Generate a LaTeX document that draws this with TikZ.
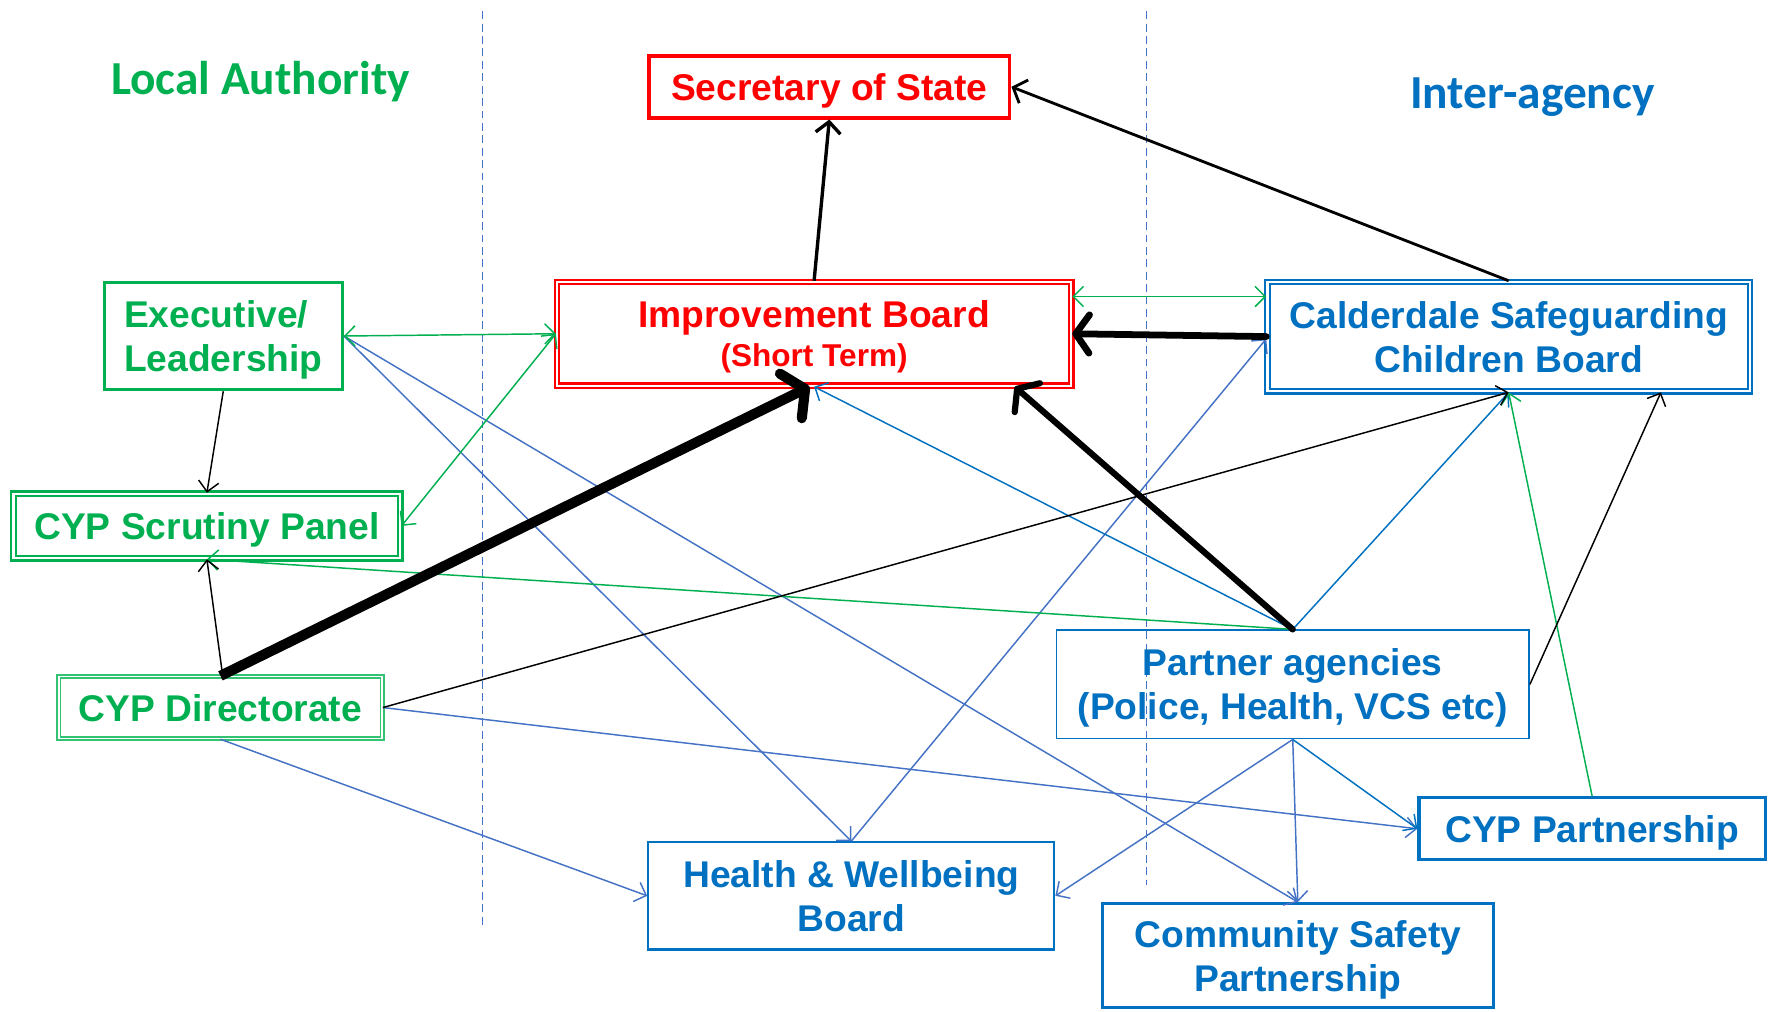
\documentclass[tikz,border=0pt]{standalone}
\usepackage{fontspec}
\setmainfont{Liberation Sans}
\newfontfamily\hdrfont{Carlito}
\usetikzlibrary{arrows.meta}
\definecolor{lagreen}{HTML}{00B050}
\definecolor{dirgreen}{HTML}{33C173}
\definecolor{iblue}{HTML}{0070C0}
\definecolor{lblue}{HTML}{4472C4}
\definecolor{ired}{HTML}{FF0000}
\begin{document}
\begin{tikzpicture}[x=1pt,y=-1pt,
  box/.style={draw, rectangle, inner sep=0pt, align=center, text depth=0pt,
    font=\fontsize{33}{39}\selectfont\bfseries},
  hdr/.style={font=\hdrfont\fontsize{42}{48}\selectfont\bfseries},
  thin/.style={line width=1.3pt, -{Straight Barb[length=9pt,width=18pt]}},
  thinboth/.style={line width=1.3pt, {Straight Barb[length=9pt,width=18pt]}-{Straight Barb[length=9pt,width=18pt]}},
  divider/.style={lblue, line width=1.3pt, dash pattern=on 7pt off 4pt}
]
\useasboundingbox (0,0) rectangle (1568,897);

% headers
\node[hdr, text=lagreen] (la) at (231,72) {Local Authority};
\node[hdr, text=iblue] (ia) at (1359,86) {Inter-agency};

% dividers
\draw[divider] (428,10) -- (428,823);
\draw[divider] (1017,10) -- (1017,785);

% boxes
\node[box, ired, line width=3pt, minimum width=320pt, minimum height=55pt] (sos) at (735.5,77) {Secretary of State};
\node[box, ired, line width=2pt, double=white, double distance=2pt, minimum width=456pt, minimum height=92pt] (ib) at (722,296)
  {Improvement Board\\[-4pt]{\fontsize{28}{32}\selectfont (Short Term)}};
\node[box, lagreen, line width=3pt, minimum width=211pt, minimum height=95pt, align=left] (exec) at (198,298) {Executive/\\Leadership};
\node[box, lagreen, line width=2pt, double=white, double distance=2pt, minimum width=343pt, minimum height=57pt] (scr) at (183.5,466.5) {CYP Scrutiny Panel};
\node[box, dirgreen, text=lagreen, line width=1.2pt, double=white, double distance=1.6pt, minimum width=287pt, minimum height=55pt] (dir) at (195.5,627.5) {CYP Directorate};
\node[box, iblue, line width=2pt, double=white, double distance=2pt, minimum width=428pt, minimum height=97pt] (csc) at (1338,298.5) {Calderdale Safeguarding\\Children Board};
\node[box, iblue, line width=1.6pt, minimum width=419pt, minimum height=96pt] (pa) at (1146.5,607) {Partner agencies\\(Police, Health, VCS etc)};
\node[box, iblue, line width=3pt, minimum width=307pt, minimum height=55pt] (cypp) at (1412,735) {CYP Partnership};
\node[box, iblue, line width=2pt, minimum width=360pt, minimum height=95pt] (hwb) at (755,794.5) {Health \& Wellbeing\\Board};
\node[box, iblue, line width=3pt, minimum width=347pt, minimum height=92pt] (csp) at (1151,847.5) {Community Safety\\Partnership};

% thin blue connectors
\draw[thin, lblue] (exec.east) -- (hwb.north);
\draw[thin, lblue] (exec.east) -- (csp.north);
\draw[thin, lblue] (hwb.north) -- ([yshift=-2pt]csc.west);
\draw[thin, lblue] (dir.south) -- (hwb.west);
\draw[thin, lblue] (dir.east) -- (cypp.west);
\draw[thin, lblue] (pa.south) -- (hwb.east);
\draw[thin, lblue] (pa.south) -- (csp.north);
\draw[thin, iblue] (pa.south) -- (cypp.west);
\draw[thin, iblue] (pa.north) -- (ib.south);
\draw[thin, iblue] (pa.north) -- (csc.south);

% thin green connectors
\draw[thinboth, lagreen] (exec.east) -- (ib.west);
\draw[thinboth, lagreen] (scr.east) -- (ib.west);
\draw[thinboth, lagreen] ([yshift=33pt]ib.east) -- ([yshift=35.5pt]csc.west);
\draw[thin, lagreen] (pa.north) -- (scr.south);
\draw[thin, lagreen] (cypp.north) -- (csc.south);

% thin black connectors
\draw[thin, black] (exec.south) -- (scr.north);
\draw[thin, black] ([xshift=2pt]dir.north) -- (scr.south);
\draw[thin, black] (dir.east) -- (csc.south);
\draw[thin, black] (pa.east) -- ([xshift=135pt]csc.south);

% heavier black connectors
\draw[black, line width=3pt, -{Straight Barb[length=10pt,width=22pt]}] (ib.north) -- (sos.south);
\draw[black, line width=2.5pt, -{Straight Barb[length=10pt,width=22pt]}] (csc.north) -- (sos.east);
\draw[black, line width=6pt, line cap=round, -{Straight Barb[length=12pt,width=34pt, round]}] (csc.west) -- (ib.east);
\draw[black, line width=5.5pt, line cap=round, -{Straight Barb[length=12pt,width=34pt, round]}] (pa.north) -- ([xshift=178pt]ib.south);
\draw[black, line width=9pt, -{Straight Barb[length=14pt,width=44pt, round]}] (dir.north) -- ([xshift=-4pt]ib.south);
\end{tikzpicture}
\end{document}
